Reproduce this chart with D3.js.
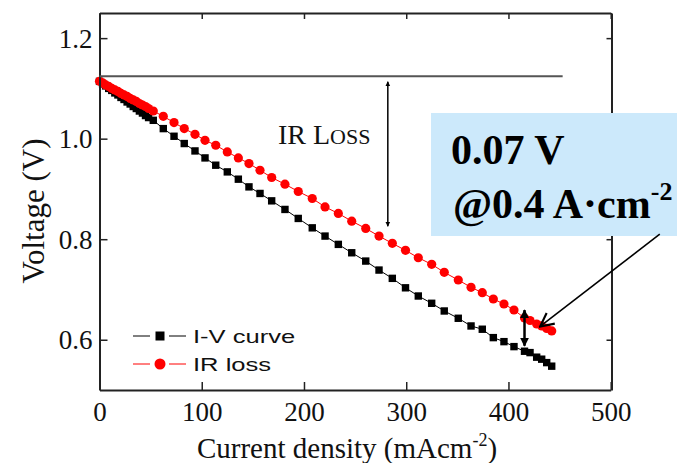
<!DOCTYPE html>
<html>
<head>
<meta charset="utf-8">
<script src="https://cdn.jsdelivr.net/npm/d3@7"></script>
<style>
  body { margin: 0; background: #fff; }
  svg { display: block; }
</style>
</head>
<body>
<svg id="canvas"></svg>
<script>
// current density (mA cm-2), shared by both curves
let current = [0, 3, 6, 9, 12, 15, 18, 21, 24, 27, 30, 33, 36, 39, 42, 45, 48,
  52.6, 62.4, 72.9, 82.9, 93.4, 103.2, 113.7, 125.0, 135.8, 146.2, 157.0, 168.4, 181.4, 194.4,
  208.1, 220.6, 233.6, 246.7, 260.4, 273.4, 286.4, 299.3, 311.8, 324.9, 337.2, 350.9, 363.4,
  374.4, 385.2, 395.6, 405.4, 415.7, 421.1, 427.6, 432.5, 437.4, 442.3];

let ivCurve = [1.114, 1.109, 1.105, 1.100, 1.096, 1.091, 1.087, 1.082, 1.078, 1.073, 1.069, 1.064, 1.060, 1.055, 1.051, 1.046, 1.042,
  1.0365, 1.020, 1.0048, 0.9903, 0.9756, 0.9617, 0.9472, 0.9339, 0.9194, 0.9041, 0.8910, 0.8763, 0.8592, 0.8413,
  0.8226, 0.8062, 0.7897, 0.7730, 0.7565, 0.7386, 0.7221, 0.7033, 0.6870, 0.6725, 0.6572, 0.6427, 0.6274,
  0.6209, 0.6042, 0.5962, 0.5863, 0.5771, 0.5744, 0.5653, 0.5613, 0.5545, 0.5474];

let irLoss = [1.114, 1.111, 1.107, 1.104, 1.100, 1.097, 1.094, 1.090, 1.087, 1.084, 1.080, 1.077, 1.074, 1.070, 1.067, 1.064, 1.060,
  1.055, 1.0445, 1.032, 1.020, 1.0087, 0.9968, 0.9869, 0.9736, 0.9617, 0.9505, 0.9372, 0.9227, 0.9094, 0.8949,
  0.8810, 0.8643, 0.8512, 0.8359, 0.8214, 0.8062, 0.7917, 0.7778, 0.7631, 0.7500, 0.7341, 0.7188, 0.7043,
  0.6936, 0.6810, 0.6711, 0.6592, 0.6433, 0.6383, 0.6313, 0.6274, 0.6224, 0.6175];

let xTicks = [0, 100, 200, 300, 400, 500];
let yTicks = [0.6, 0.8, 1.0, 1.2];
let legendNames = ["I-V curve", "IR loss"];

let width = 677;
let height = 463;
let serif = "'Liberation Serif', 'Times New Roman', serif";
let sans = "'Liberation Sans', Arial, sans-serif";

let canvas = d3.select("#canvas")
  .attr("width", width)
  .attr("height", height);

let xScale = d3.scaleLinear().domain([0, 500]).range([99.5, 610.7]);
let yScale = d3.scaleLinear().domain([0.5, 1.25]).range([390, 13]);

let ivData = current.map((c, i) => ({ x: c, y: ivCurve[i] }));
let irData = current.map((c, i) => ({ x: c, y: irLoss[i] }));

// arrow heads
let defs = canvas.append("defs");
defs.append("marker")
  .attr("id", "head")
  .attr("viewBox", "0 0 10 10")
  .attr("refX", 9).attr("refY", 5)
  .attr("markerWidth", 5).attr("markerHeight", 6)
  .attr("markerUnits", "userSpaceOnUse")
  .attr("orient", "auto-start-reverse")
  .append("path").attr("d", "M0,0 L10,5 L0,10 z").attr("fill", "#000");
defs.append("marker")
  .attr("id", "headBig")
  .attr("viewBox", "0 0 10 10")
  .attr("refX", 9).attr("refY", 5)
  .attr("markerWidth", 9).attr("markerHeight", 10)
  .attr("markerUnits", "userSpaceOnUse")
  .attr("orient", "auto-start-reverse")
  .append("path").attr("d", "M0,0 L10,5 L0,10 z").attr("fill", "#000");
defs.append("marker")
  .attr("id", "openHead")
  .attr("viewBox", "0 0 12 12")
  .attr("refX", 11).attr("refY", 6)
  .attr("markerWidth", 16).attr("markerHeight", 16)
  .attr("markerUnits", "userSpaceOnUse")
  .attr("orient", "auto")
  .append("path").attr("d", "M1,1 L11,6 L1,11").attr("fill", "none")
  .attr("stroke", "#000").attr("stroke-width", 1.6);

// axes, ticks inward on all four sides
let drawAxes = () => {
  let bottom = d3.axisBottom(xScale).tickValues(xTicks).tickSizeInner(-8).tickSizeOuter(0).tickFormat(d3.format("d"));
  let top = d3.axisTop(xScale).tickValues(xTicks).tickSizeInner(-6).tickSizeOuter(0).tickFormat("");
  let left = d3.axisLeft(yScale).tickValues(yTicks).tickSizeInner(-8).tickSizeOuter(0).tickFormat(d3.format(".1f"));
  let right = d3.axisRight(yScale).tickValues(yTicks).tickSizeInner(-5).tickSizeOuter(0).tickFormat("");

  let gb = canvas.append("g").attr("transform", "translate(0,390)").call(bottom);
  let gt = canvas.append("g").attr("transform", "translate(0,13)").call(top);
  let gl = canvas.append("g").attr("transform", "translate(99.5,0)").call(left);
  let gr = canvas.append("g").attr("transform", "translate(611.5,0)").call(right);

  [gb, gt, gl, gr].forEach(g => {
    g.select(".domain").attr("stroke", "#222").attr("stroke-width", 2);
    g.selectAll(".tick line").attr("stroke", "#222").attr("stroke-width", 1.5);
    g.selectAll("text").attr("font-family", serif).attr("font-size", 27).attr("fill", "#111");
  });
  gb.selectAll("text").attr("dy", 0).attr("y", 31);
  gl.selectAll("text").attr("x", -7).attr("dy", "0.33em");
};

let drawSeries = () => {
  let line = d3.line().x(d => xScale(d.x)).y(d => yScale(d.y));

  canvas.append("path").datum(ivData)
    .attr("d", line).attr("fill", "none").attr("stroke", "#000").attr("stroke-width", 1);
  canvas.selectAll(".sq").data(ivData).enter().append("rect")
    .attr("class", "sq")
    .attr("x", d => xScale(d.x) - 3.7).attr("y", d => yScale(d.y) - 3.7)
    .attr("width", 7.4).attr("height", 7.4).attr("fill", "#000");

  canvas.append("path").datum(irData)
    .attr("d", line).attr("fill", "none").attr("stroke", "#ff0000").attr("stroke-width", 1);
  canvas.selectAll(".dot").data(irData).enter().append("circle")
    .attr("class", "dot")
    .attr("cx", d => xScale(d.x)).attr("cy", d => yScale(d.y))
    .attr("r", 4.6).attr("fill", "#ff0000");
};

let drawLabels = () => {
  canvas.append("text")
    .attr("transform", "translate(44,211) rotate(-90)")
    .attr("text-anchor", "middle")
    .attr("font-family", serif).attr("font-size", 31).attr("fill", "#111")
    .text("Voltage (V)");

  let xl = canvas.append("text")
    .attr("x", 347).attr("y", 458)
    .attr("text-anchor", "middle")
    .attr("font-family", serif).attr("font-size", 29).attr("fill", "#111");
  xl.append("tspan").text("Current density (mAcm");
  xl.append("tspan").attr("font-size", 18).attr("dy", -12).text("-2");
  xl.append("tspan").attr("dy", 12).text(")");
};

let drawLegend = () => {
  let rows = [
    { name: legendNames[0], color: "#000", shape: "square", y: 336 },
    { name: legendNames[1], color: "#ff0000", shape: "circle", y: 364 }
  ];
  rows.forEach(r => {
    canvas.append("line").attr("x1", 133).attr("x2", 186).attr("y1", r.y).attr("y2", r.y)
      .attr("stroke", r.color).attr("stroke-width", 1);
    canvas.append("rect").attr("x", 150).attr("y", r.y - 9).attr("width", 19).attr("height", 18)
      .attr("fill", "#fff");
    if (r.shape === "square") {
      canvas.append("rect").attr("x", 155.5).attr("y", r.y - 4.5).attr("width", 9).attr("height", 9).attr("fill", r.color);
    } else {
      canvas.append("circle").attr("cx", 160).attr("cy", r.y).attr("r", 5.5).attr("fill", r.color);
    }
    // text is stretched horizontally in the original figure
    canvas.append("text")
      .attr("transform", "translate(193," + (r.y + 6.5) + ") scale(1.42,1)")
      .attr("font-family", sans).attr("font-size", 18).attr("fill", "#111")
      .text(r.name);
  });
};

let drawAnnotations = () => {
  // open circuit reference line
  canvas.append("line")
    .attr("x1", xScale(0)).attr("x2", xScale(453))
    .attr("y1", yScale(1.124)).attr("y2", yScale(1.124))
    .attr("stroke", "#555").attr("stroke-width", 2);

  // IR loss span arrow
  canvas.append("line")
    .attr("x1", xScale(282)).attr("x2", xScale(282))
    .attr("y1", yScale(1.113)).attr("y2", yScale(0.826))
    .attr("stroke", "#000").attr("stroke-width", 1.5)
    .attr("marker-start", "url(#head)").attr("marker-end", "url(#head)");

  let irText = canvas.append("text")
    .attr("x", 278).attr("y", 144)
    .attr("font-family", serif).attr("font-size", 28).attr("fill", "#111");
  irText.append("tspan").text("IR L");
  irText.append("tspan").attr("font-size", 22).text("OSS");

  // gap arrow at 0.4 A cm-2
  canvas.append("line")
    .attr("x1", xScale(415.7)).attr("x2", xScale(415.7))
    .attr("y1", yScale(0.659)).attr("y2", yScale(0.588))
    .attr("stroke", "#000").attr("stroke-width", 2.5)
    .attr("marker-start", "url(#headBig)").attr("marker-end", "url(#headBig)");

  // callout box
  canvas.append("rect")
    .attr("x", 431).attr("y", 113).attr("width", 246).attr("height", 123)
    .attr("fill", "#cce9fb");

  canvas.append("text")
    .attr("x", 451).attr("y", 164)
    .attr("font-family", serif).attr("font-weight", "bold").attr("font-size", 42).attr("fill", "#000")
    .text("0.07 V");
  let t2 = canvas.append("text")
    .attr("x", 453).attr("y", 218)
    .attr("font-family", serif).attr("font-weight", "bold").attr("font-size", 42).attr("fill", "#000");
  t2.append("tspan").text("@0.4 A\u00b7cm");
  t2.append("tspan").attr("font-size", 26).attr("dy", -18).text("-2");

  canvas.append("line")
    .attr("x1", xScale(548)).attr("y1", yScale(0.810))
    .attr("x2", xScale(431)).attr("y2", yScale(0.6264))
    .attr("stroke", "#000").attr("stroke-width", 1.6)
    .attr("marker-end", "url(#openHead)");
};

drawSeries();
drawAxes();
drawLegend();
drawLabels();
drawAnnotations();
</script>
</body>
</html>
